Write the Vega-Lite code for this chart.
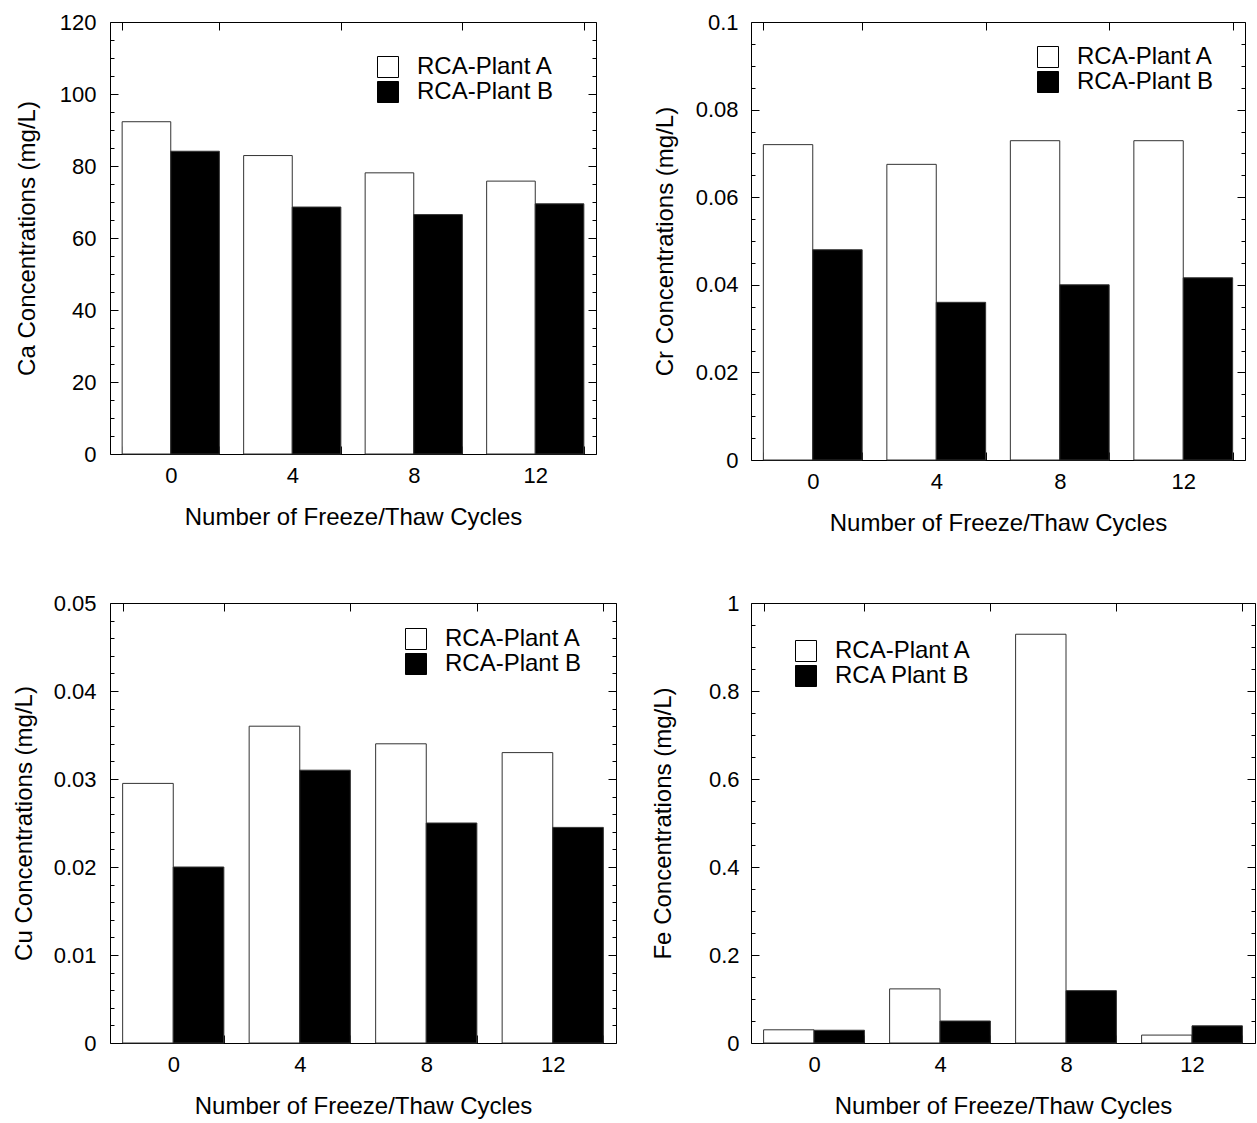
{
  "$schema": "https://vega.github.io/schema/vega-lite/v6.json",
  "background": "white",
  "padding": {"left": 12, "top": 10, "right": 0, "bottom": 5},
  "datasets": {
    "ca": [
      {"cycle": 0, "plant": "RCA-Plant A", "value": 92.3},
      {"cycle": 0, "plant": "RCA-Plant B", "value": 84.1},
      {"cycle": 4, "plant": "RCA-Plant A", "value": 82.9},
      {"cycle": 4, "plant": "RCA-Plant B", "value": 68.6},
      {"cycle": 8, "plant": "RCA-Plant A", "value": 78.1},
      {"cycle": 8, "plant": "RCA-Plant B", "value": 66.5},
      {"cycle": 12, "plant": "RCA-Plant A", "value": 75.8},
      {"cycle": 12, "plant": "RCA-Plant B", "value": 69.5}
    ],
    "cr": [
      {"cycle": 0, "plant": "RCA-Plant A", "value": 0.072},
      {"cycle": 0, "plant": "RCA-Plant B", "value": 0.048},
      {"cycle": 4, "plant": "RCA-Plant A", "value": 0.0675},
      {"cycle": 4, "plant": "RCA-Plant B", "value": 0.036},
      {"cycle": 8, "plant": "RCA-Plant A", "value": 0.0729},
      {"cycle": 8, "plant": "RCA-Plant B", "value": 0.040},
      {"cycle": 12, "plant": "RCA-Plant A", "value": 0.0729},
      {"cycle": 12, "plant": "RCA-Plant B", "value": 0.0416}
    ],
    "cu": [
      {"cycle": 0, "plant": "RCA-Plant A", "value": 0.0295},
      {"cycle": 0, "plant": "RCA-Plant B", "value": 0.020},
      {"cycle": 4, "plant": "RCA-Plant A", "value": 0.036},
      {"cycle": 4, "plant": "RCA-Plant B", "value": 0.031},
      {"cycle": 8, "plant": "RCA-Plant A", "value": 0.034},
      {"cycle": 8, "plant": "RCA-Plant B", "value": 0.025},
      {"cycle": 12, "plant": "RCA-Plant A", "value": 0.033},
      {"cycle": 12, "plant": "RCA-Plant B", "value": 0.0245}
    ],
    "fe": [
      {"cycle": 0, "plant": "RCA-Plant A", "value": 0.030},
      {"cycle": 0, "plant": "RCA Plant B", "value": 0.029},
      {"cycle": 4, "plant": "RCA-Plant A", "value": 0.123},
      {"cycle": 4, "plant": "RCA Plant B", "value": 0.050},
      {"cycle": 8, "plant": "RCA-Plant A", "value": 0.929},
      {"cycle": 8, "plant": "RCA Plant B", "value": 0.119},
      {"cycle": 12, "plant": "RCA-Plant A", "value": 0.018},
      {"cycle": 12, "plant": "RCA Plant B", "value": 0.039}
    ]
  },
  "columns": 1,
  "align": "none",
  "spacing": 55,
  "concat": [
    {
      "spacing": 55,
      "hconcat": [
        {
          "width": 486, "height": 432,
          "data": {"name": "ca"},
          "layer": [
            {
              "mark": {"type": "bar", "stroke": "#333", "strokeWidth": 1},
              "encoding": {
                "x": {"field": "cycle", "type": "ordinal", "sort": [0, 4, 8, 12], "scale": {"paddingInner": 0.2, "paddingOuter": 0.1},
                      "axis": {"orient": "bottom", "title": "Number of Freeze/Thaw Cycles", "labelAngle": 0, "tickBand": "extent", "tickSize": -8, "labelPadding": 19, "titlePadding": 19}},
                "xOffset": {"field": "plant", "type": "nominal", "sort": ["RCA-Plant A", "RCA-Plant B"]},
                "y": {"field": "value", "type": "quantitative", "stack": null, "scale": {"domain": [0, 120], "nice": false},
                      "axis": {"orient": "left", "values": [0, 20, 40, 60, 80, 100, 120], "format": "~f", "tickSize": -8, "labelPadding": 22, "title": "Ca Concentrations (mg/L)", "titlePadding": 20}},
                "fill": {"field": "plant", "type": "nominal", "scale": {"domain": ["RCA-Plant A", "RCA-Plant B"], "range": ["white", "black"]},
                         "legend": {"orient": "none", "legendX": 266, "legendY": 33, "title": null}}
              }
            },
            {
              "mark": {"type": "bar", "opacity": 0},
              "encoding": {
                "x": {"field": "cycle", "type": "ordinal", "sort": [0, 4, 8, 12], "axis": {"orient": "top", "labels": false, "title": null, "tickBand": "extent", "tickSize": -8}},
                "y": {"field": "value", "type": "quantitative", "stack": null, "axis": {"orient": "right", "values": [0, 20, 40, 60, 80, 100, 120], "tickSize": -8, "labels": false, "title": null}}
              }
            },
            {
              "mark": {"type": "bar", "opacity": 0},
              "encoding": {
                "x": {"field": "cycle", "type": "ordinal", "sort": [0, 4, 8, 12], "axis": null},
                "y": {"field": "value", "type": "quantitative", "stack": null, "axis": {"orient": "left", "values": [5, 10, 15, 25, 30, 35, 45, 50, 55, 65, 70, 75, 85, 90, 95, 105, 110, 115], "tickSize": -4, "labels": false, "title": null}}
              }
            },
            {
              "mark": {"type": "bar", "opacity": 0},
              "encoding": {
                "x": {"field": "cycle", "type": "ordinal", "sort": [0, 4, 8, 12], "axis": null},
                "y": {"field": "value", "type": "quantitative", "stack": null, "axis": {"orient": "right", "values": [5, 10, 15, 25, 30, 35, 45, 50, 55, 65, 70, 75, 85, 90, 95, 105, 110, 115], "tickSize": -4, "labels": false, "title": null}}
              }
            }
          ],
          "resolve": {"axis": {"x": "independent", "y": "independent"}}
        },
        {
          "width": 494, "height": 438,
          "data": {"name": "cr"},
          "layer": [
            {
              "mark": {"type": "bar", "stroke": "#333", "strokeWidth": 1},
              "encoding": {
                "x": {"field": "cycle", "type": "ordinal", "sort": [0, 4, 8, 12], "scale": {"paddingInner": 0.2, "paddingOuter": 0.1},
                      "axis": {"orient": "bottom", "title": "Number of Freeze/Thaw Cycles", "labelAngle": 0, "tickBand": "extent", "tickSize": -8, "labelPadding": 19, "titlePadding": 19}},
                "xOffset": {"field": "plant", "type": "nominal", "sort": ["RCA-Plant A", "RCA-Plant B"]},
                "y": {"field": "value", "type": "quantitative", "stack": null, "scale": {"domain": [0, 0.1], "nice": false},
                      "axis": {"orient": "left", "values": [0, 0.02, 0.04, 0.06, 0.08, 0.1], "format": "~f", "tickSize": -8, "labelPadding": 21, "title": "Cr Concentrations (mg/L)", "titlePadding": 18}},
                "fill": {"field": "plant", "type": "nominal", "scale": {"domain": ["RCA-Plant A", "RCA-Plant B"], "range": ["white", "black"]},
                         "legend": {"orient": "none", "legendX": 285, "legendY": 23, "title": null}}
              }
            },
            {
              "mark": {"type": "bar", "opacity": 0},
              "encoding": {
                "x": {"field": "cycle", "type": "ordinal", "sort": [0, 4, 8, 12], "axis": {"orient": "top", "labels": false, "title": null, "tickBand": "extent", "tickSize": -8}},
                "y": {"field": "value", "type": "quantitative", "stack": null, "axis": {"orient": "right", "values": [0, 0.02, 0.04, 0.06, 0.08, 0.1], "tickSize": -8, "labels": false, "title": null}}
              }
            },
            {
              "mark": {"type": "bar", "opacity": 0},
              "encoding": {
                "x": {"field": "cycle", "type": "ordinal", "sort": [0, 4, 8, 12], "axis": null},
                "y": {"field": "value", "type": "quantitative", "stack": null, "axis": {"orient": "left", "values": [0.005, 0.01, 0.015, 0.025, 0.03, 0.035, 0.045, 0.05, 0.055, 0.065, 0.07, 0.075, 0.085, 0.09, 0.095], "tickSize": -4, "labels": false, "title": null}}
              }
            },
            {
              "mark": {"type": "bar", "opacity": 0},
              "encoding": {
                "x": {"field": "cycle", "type": "ordinal", "sort": [0, 4, 8, 12], "axis": null},
                "y": {"field": "value", "type": "quantitative", "stack": null, "axis": {"orient": "right", "values": [0.005, 0.01, 0.015, 0.025, 0.03, 0.035, 0.045, 0.05, 0.055, 0.065, 0.07, 0.075, 0.085, 0.09, 0.095], "tickSize": -4, "labels": false, "title": null}}
              }
            }
          ],
          "resolve": {"axis": {"x": "independent", "y": "independent"}}
        }
      ],
      "resolve": {"scale": {"fill": "independent", "xOffset": "independent"}, "legend": {"fill": "independent"}}
    },
    {
      "spacing": 33,
      "hconcat": [
        {
          "width": 506, "height": 440,
          "data": {"name": "cu"},
          "layer": [
            {
              "mark": {"type": "bar", "stroke": "#333", "strokeWidth": 1},
              "encoding": {
                "x": {"field": "cycle", "type": "ordinal", "sort": [0, 4, 8, 12], "scale": {"paddingInner": 0.2, "paddingOuter": 0.1},
                      "axis": {"orient": "bottom", "title": "Number of Freeze/Thaw Cycles", "labelAngle": 0, "tickBand": "extent", "tickSize": -8, "labelPadding": 19, "titlePadding": 19}},
                "xOffset": {"field": "plant", "type": "nominal", "sort": ["RCA-Plant A", "RCA-Plant B"]},
                "y": {"field": "value", "type": "quantitative", "stack": null, "scale": {"domain": [0, 0.05], "nice": false},
                      "axis": {"orient": "left", "values": [0, 0.01, 0.02, 0.03, 0.04, 0.05], "format": "~f", "tickSize": -8, "labelPadding": 22, "title": "Cu Concentrations (mg/L)", "titlePadding": 16.5}},
                "fill": {"field": "plant", "type": "nominal", "scale": {"domain": ["RCA-Plant A", "RCA-Plant B"], "range": ["white", "black"]},
                         "legend": {"orient": "none", "legendX": 294, "legendY": 24, "title": null}}
              }
            },
            {
              "mark": {"type": "bar", "opacity": 0},
              "encoding": {
                "x": {"field": "cycle", "type": "ordinal", "sort": [0, 4, 8, 12], "axis": {"orient": "top", "labels": false, "title": null, "tickBand": "extent", "tickSize": -8}},
                "y": {"field": "value", "type": "quantitative", "stack": null, "axis": {"orient": "right", "values": [0, 0.01, 0.02, 0.03, 0.04, 0.05], "tickSize": -8, "labels": false, "title": null}}
              }
            },
            {
              "mark": {"type": "bar", "opacity": 0},
              "encoding": {
                "x": {"field": "cycle", "type": "ordinal", "sort": [0, 4, 8, 12], "axis": null},
                "y": {"field": "value", "type": "quantitative", "stack": null, "axis": {"orient": "left", "values": [0.002, 0.004, 0.006, 0.008, 0.012, 0.014, 0.016, 0.018, 0.022, 0.024, 0.026, 0.028, 0.032, 0.034, 0.036, 0.038, 0.042, 0.044, 0.046, 0.048], "tickSize": -4, "labels": false, "title": null}}
              }
            },
            {
              "mark": {"type": "bar", "opacity": 0},
              "encoding": {
                "x": {"field": "cycle", "type": "ordinal", "sort": [0, 4, 8, 12], "axis": null},
                "y": {"field": "value", "type": "quantitative", "stack": null, "axis": {"orient": "right", "values": [0.002, 0.004, 0.006, 0.008, 0.012, 0.014, 0.016, 0.018, 0.022, 0.024, 0.026, 0.028, 0.032, 0.034, 0.036, 0.038, 0.042, 0.044, 0.046, 0.048], "tickSize": -4, "labels": false, "title": null}}
              }
            }
          ],
          "resolve": {"axis": {"x": "independent", "y": "independent"}}
        },
        {
          "width": 504, "height": 440,
          "data": {"name": "fe"},
          "layer": [
            {
              "mark": {"type": "bar", "stroke": "#333", "strokeWidth": 1},
              "encoding": {
                "x": {"field": "cycle", "type": "ordinal", "sort": [0, 4, 8, 12], "scale": {"paddingInner": 0.2, "paddingOuter": 0.1},
                      "axis": {"orient": "bottom", "title": "Number of Freeze/Thaw Cycles", "labelAngle": 0, "tickBand": "extent", "tickSize": -8, "labelPadding": 19, "titlePadding": 19}},
                "xOffset": {"field": "plant", "type": "nominal", "sort": ["RCA-Plant A", "RCA Plant B"]},
                "y": {"field": "value", "type": "quantitative", "stack": null, "scale": {"domain": [0, 1], "nice": false},
                      "axis": {"orient": "left", "values": [0, 0.2, 0.4, 0.6, 0.8, 1], "format": "~f", "tickSize": -8, "labelPadding": 20, "title": "Fe Concentrations (mg/L)", "titlePadding": 33}},
                "fill": {"field": "plant", "type": "nominal", "scale": {"domain": ["RCA-Plant A", "RCA Plant B"], "range": ["white", "black"]},
                         "legend": {"orient": "none", "legendX": 43, "legendY": 36, "title": null}}
              }
            },
            {
              "mark": {"type": "bar", "opacity": 0},
              "encoding": {
                "x": {"field": "cycle", "type": "ordinal", "sort": [0, 4, 8, 12], "axis": {"orient": "top", "labels": false, "title": null, "tickBand": "extent", "tickSize": -8}},
                "y": {"field": "value", "type": "quantitative", "stack": null, "axis": {"orient": "right", "values": [0, 0.2, 0.4, 0.6, 0.8, 1], "tickSize": -8, "labels": false, "title": null}}
              }
            },
            {
              "mark": {"type": "bar", "opacity": 0},
              "encoding": {
                "x": {"field": "cycle", "type": "ordinal", "sort": [0, 4, 8, 12], "axis": null},
                "y": {"field": "value", "type": "quantitative", "stack": null, "axis": {"orient": "left", "values": [0.05, 0.1, 0.15, 0.25, 0.3, 0.35, 0.45, 0.5, 0.55, 0.65, 0.7, 0.75, 0.85, 0.9, 0.95], "tickSize": -4, "labels": false, "title": null}}
              }
            },
            {
              "mark": {"type": "bar", "opacity": 0},
              "encoding": {
                "x": {"field": "cycle", "type": "ordinal", "sort": [0, 4, 8, 12], "axis": null},
                "y": {"field": "value", "type": "quantitative", "stack": null, "axis": {"orient": "right", "values": [0.05, 0.1, 0.15, 0.25, 0.3, 0.35, 0.45, 0.5, 0.55, 0.65, 0.7, 0.75, 0.85, 0.9, 0.95], "tickSize": -4, "labels": false, "title": null}}
              }
            }
          ],
          "resolve": {"axis": {"x": "independent", "y": "independent"}}
        }
      ],
      "resolve": {"scale": {"fill": "independent", "xOffset": "independent"}, "legend": {"fill": "independent"}}
    }
  ],
  "resolve": {"scale": {"fill": "independent", "xOffset": "independent"}, "legend": {"fill": "independent"}},
  "config": {
    "font": "Liberation Sans",
    "view": {"stroke": "black", "strokeWidth": 1},
    "axis": {
      "labelFont": "Liberation Sans", "titleFont": "Liberation Sans",
      "labelFontSize": 22, "titleFontSize": 24, "titleFontWeight": "normal",
      "labelColor": "black", "titleColor": "black", "tickColor": "black", "tickWidth": 1,
      "domain": false, "grid": false
    },
    "legend": {
      "symbolType": "square", "symbolSize": 441, "symbolStrokeColor": "black", "symbolStrokeWidth": 1,
      "labelFont": "Liberation Sans", "labelFontSize": 24, "labelColor": "black", "labelOffset": 17,
      "rowPadding": -1, "padding": 0, "offset": 0, "labelLimit": 400
    }
  }
}
